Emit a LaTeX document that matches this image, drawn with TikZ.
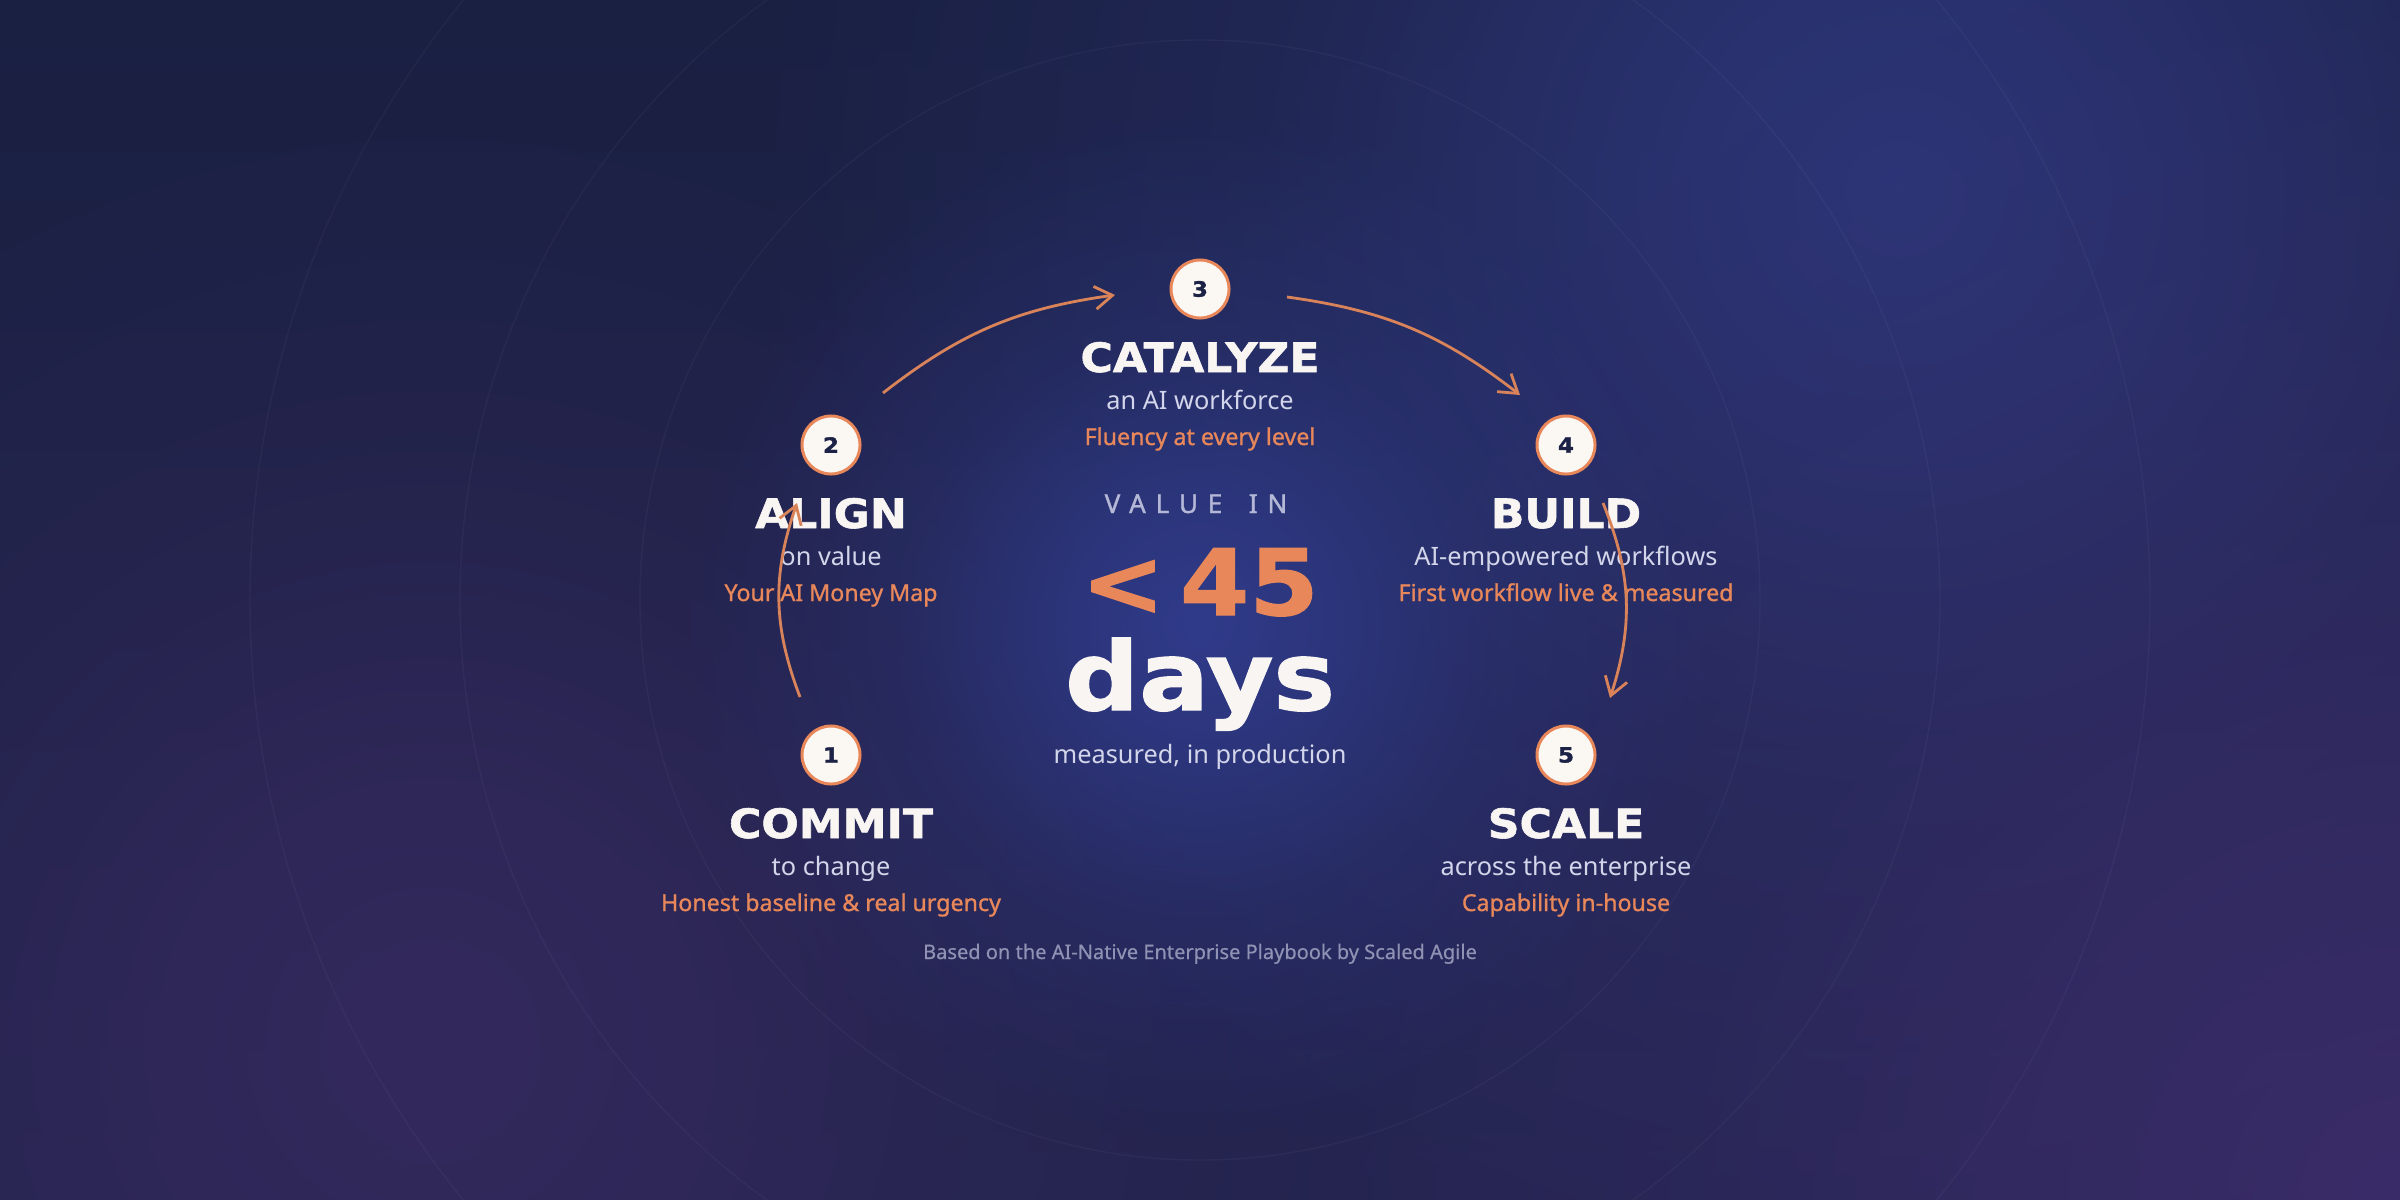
\documentclass[tikz,border=0pt]{standalone}
\usepackage{fontspec}
\setmainfont{Noto Sans}
\newfontfamily\headfont{DejaVu Sans}[BoldFeatures={FakeBold=1.4, FakeStretch=1.09}]
\newfontfamily\payfont{Noto Sans}[FakeBold=1.1]
\newfontfamily\trackfont{Noto Sans}[LetterSpace=38, FakeBold=1.3]
\newfontfamily\creditfont{Noto Sans}[FakeBold=0.4]
\usetikzlibrary{arrows.meta, fadings}

\definecolor{bgtop}{HTML}{1A2042}
\definecolor{bgbottom}{HTML}{23244E}
\definecolor{glowblue}{HTML}{2D3679}
\definecolor{glowpurple}{HTML}{34295D}
\definecolor{glowcorner}{HTML}{3A2C68}
\definecolor{glowcore}{HTML}{303B8A}
\definecolor{accent}{HTML}{E8875A}
\definecolor{accentline}{HTML}{D9835A}
\definecolor{headwhite}{HTML}{F8F5F2}
\definecolor{soft}{HTML}{D3D6EA}
\definecolor{muted}{HTML}{B4B8D6}
\definecolor{faint}{HTML}{8F92B3}
\definecolor{ink}{HTML}{1B2246}
\definecolor{dotfill}{HTML}{FBF8F4}

\pgfdeclareradialshading{softshade}{\pgfpointorigin}{color(0bp)=(pgftransparent!0);
  color(6bp)=(pgftransparent!25); color(14bp)=(pgftransparent!70);
  color(25bp)=(pgftransparent!100); color(50bp)=(pgftransparent!100)}
\pgfdeclarefading{glowfade}{\pgfuseshading{softshade}}

\begin{document}
\begin{tikzpicture}[x=0.01cm, y=-0.01cm]

\tikzstyle{stepdot}  = [circle, draw=accent, line width=0.85pt, fill=dotfill,
  minimum size=0.58cm, inner sep=0pt, text=ink,
  font=\headfont\bfseries\fontsize{6}{6}\selectfont]
\tikzstyle{title}  = [anchor=base, text=headwhite,
  font=\headfont\bfseries\fontsize{11.5}{12}\selectfont]
\tikzstyle{subline}  = [anchor=base, text=soft, font=\fontsize{7.2}{8}\selectfont]
\tikzstyle{payoff}  = [anchor=base, text=accent, font=\payfont\fontsize{6.6}{7}\selectfont]
\tikzstyle{flow}  = [-{Straight Barb[length=5pt,width=6.5pt]}, accentline, line width=0.8pt]
\tikzstyle{ring}  = [draw=white, draw opacity=0.035, line width=0.4pt]
\tikzstyle{glow}  = [path fading=glowfade]

% background
\useasboundingbox (0,0) rectangle (2400,1200);
\begin{scope}
\clip (0,0) rectangle (2400,1200);
\shade[top color=bgtop, bottom color=bgbottom] (0,0) rectangle (2400,1200);
\fill[glowblue,glow] (1900,190) circle (1150);
\fill[glowpurple,glow] (430,1040) circle (950);
\fill[glowcorner,glow] (2400,1200) circle (1250);
\fill[glowcore,glow] (1200,625) circle (520);

\foreach \r in {560,740,950}
  \draw[ring] (1200,600) circle (\r);
\end{scope}

\def\phase#1#2#3#4#5#6{
\node (n#3) [stepdot] at (#1,#2) {#3};
\node (t#3) [title] at (#1,#2+83) {#4};
\node (s#3) [subline] at (#1,#2+120) {#5};
\node (p#3) [payoff] at (#1,#2+156) {#6};
}

\phase{831}{755}{1}{COMMIT}{to change}{Honest baseline \& real urgency};
\phase{831}{445}{2}{ALIGN}{on value}{Your AI Money Map};
\phase{1200}{289}{3}{CATALYZE}{an AI workforce}{Fluency at every level};
\phase{1566}{445}{4}{BUILD}{AI-empowered workflows}{First workflow live \& measured};
\phase{1566}{755}{5}{SCALE}{across the enterprise}{Capability in-house};

% centre
\node (label) [anchor=base, text=muted, font=\trackfont\fontsize{7.4}{8}\selectfont] at (1196,513) {VALUE\hspace{2.8pt} IN};
\node (big) [anchor=base, text=accent, font=\headfont\bfseries\fontsize{26}{28}\selectfont] at (1200,615) {<\,45};
\node (days) [anchor=base, text=headwhite, font=\headfont\bfseries\fontsize{27}{28}\selectfont] at (1200,710) {days};
\node (note) [subline] at (1200,763) {measured, in production};
\node (credit) [anchor=base, text=faint, font=\creditfont\fontsize{5.7}{6}\selectfont] at (1200,959) {Based on the AI-Native Enterprise Playbook by Scaled Agile};

% arrows
\coordinate (a12) at (800,697);
\coordinate (b12) at (797,503);
\coordinate (a23) at (883,393);
\coordinate (b23) at (1115,295);
\coordinate (a34) at (1287,297);
\coordinate (b34) at (1520,395);
\coordinate (a45) at (1603,503);
\coordinate (b45) at (1610,698);

\draw[flow] (a12) to[bend left=20] (b12);
\draw[flow] (a23) to[bend left=15] (b23);
\draw[flow] (a34) to[bend left=15] (b34);
\draw[flow] (a45) to[bend left=20] (b45);

\end{tikzpicture}
\end{document}
